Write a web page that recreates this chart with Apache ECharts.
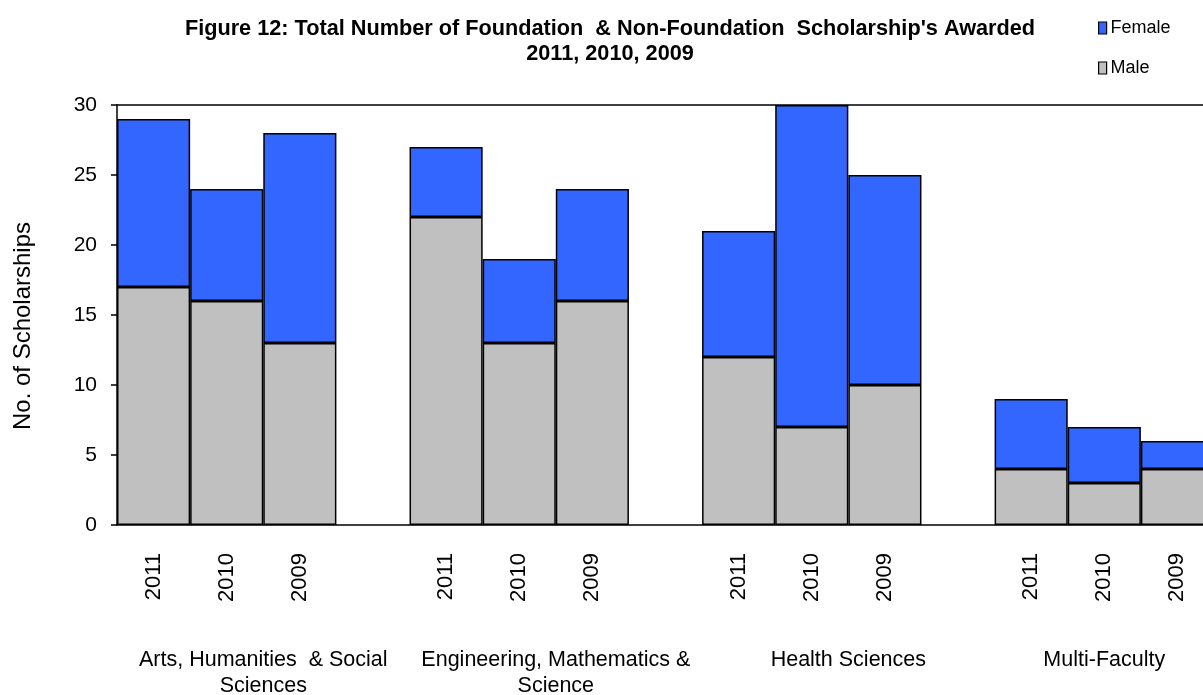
<!DOCTYPE html>
<html>
<head>
<meta charset="utf-8">
<script src="https://cdn.jsdelivr.net/npm/echarts@6/dist/echarts.min.js"></script>
<style>
html,body{margin:0;padding:0;background:#fff;}
#chart{width:1203px;height:695px;}
</style>
</head>
<body>
<div id="chart"></div>
<script>
// slots: 3 years per faculty, then a blank slot as gap
var years = ['2011','2010','2009'];
var faculties = ['Arts, Humanities  & Social\nSciences', 'Engineering, Mathematics &\nScience', 'Health Sciences', 'Multi-Faculty'];
var maleValues = [17, 16, 13, 22, 13, 16, 12, 7, 10, 4, 3, 4];
var femaleValues = [12, 8, 15, 5, 6, 8, 9, 23, 15, 5, 4, 2];
var yTicks = [0, 5, 10, 15, 20, 25, 30];

// build the category slots with gaps between groups
var slots = [], male = [], female = [];
for (var g = 0; g < faculties.length; g++) {
	for (var i = 0; i < years.length; i++) {
		slots.push(years[i]);
		male.push(maleValues[g * 3 + i]);
		female.push(femaleValues[g * 3 + i]);
	}
	if (g < faculties.length - 1) {
		slots.push('');
		male.push('-');
		female.push('-');
	}
}
// centre of each faculty's block of slots (value axis 0..slots.length)
var groupCenters = [2, 6, 10, 13.5];

var font = 'Liberation Sans, Arial, sans-serif';
var chart = echarts.init(document.getElementById('chart'));
var option = {
	animation: false,
	textStyle: {fontFamily: font, color: '#000'},
	title: {
		text: "Figure 12: Total Number of Foundation  & Non-Foundation  Scholarship's Awarded\n2011, 2010, 2009",
		left: 605,
		top: 12,
		textAlign: 'center',
		textStyle: {fontFamily: font, fontSize: 21.7, fontWeight: 'bold', color: '#000', lineHeight: 25}
	},
	legend: {
		orient: 'vertical',
		left: 1093,
		top: 14,
		icon: 'rect',
		itemWidth: 8,
		itemHeight: 12,
		itemGap: 22,
		data: ['Female', 'Male'],
		itemStyle: {borderColor: '#000', borderWidth: 1.2},
		textStyle: {fontFamily: font, fontSize: 18, color: '#000', padding: [0, 0, 0, -1]}
	},
	// the last bar runs past the right edge of the picture, as in the original
	grid: {left: 117, top: 105, height: 420, width: 1097, containLabel: false, outerBoundsMode: 'none'},
	xAxis: [
		{
			type: 'category',
			data: slots,
			position: 'bottom',
			axisLine: {lineStyle: {color: '#000', width: 1.5}},
			axisTick: {show: false},
			axisLabel: {rotate: 90, margin: 28, fontSize: 22, color: '#000', fontFamily: font, interval: 0}
		},
		{
			type: 'category',
			data: slots,
			position: 'top',
			axisLine: {lineStyle: {color: '#000', width: 1.5}},
			axisTick: {show: false},
			axisLabel: {show: false}
		},
		{
			type: 'value',
			min: 0,
			max: slots.length,
			position: 'bottom',
			axisLine: {show: false},
			axisTick: {show: false},
			splitLine: {show: false},
			axisLabel: {
				customValues: groupCenters,
				margin: 122,
				fontSize: 21.5,
				lineHeight: 26,
				color: '#000',
				fontFamily: font,
				formatter: function (v) {
					var idx = groupCenters.indexOf(v);
					return idx >= 0 ? faculties[idx] : '';
				}
			}
		}
	],
	yAxis: {
		type: 'value',
		min: 0,
		max: 30,
		interval: 5,
		name: 'No. of Scholarships',
		nameLocation: 'middle',
		nameGap: 82,
		nameTextStyle: {fontFamily: font, fontSize: 24, color: '#000', padding: [0, 22, 0, 0]},
		axisLine: {show: true, lineStyle: {color: '#000', width: 1.5}},
		axisTick: {show: true, inside: false, length: 6, lineStyle: {color: '#000', width: 1.5}},
		axisLabel: {
			margin: 20, fontSize: 21, color: '#000', fontFamily: font,
			formatter: function (v) { return yTicks.indexOf(v) >= 0 ? String(v) : ''; }
		},
		splitLine: {show: false}
	},
	series: [
		{
			name: 'Male',
			type: 'bar',
			stack: 'total',
			data: male,
			barGap: '0%',
			barCategoryGap: '0%',
			itemStyle: {color: '#C0C0C0', borderColor: '#000', borderWidth: 1.5}
		},
		{
			name: 'Female',
			type: 'bar',
			stack: 'total',
			data: female,
			barGap: '0%',
			barCategoryGap: '0%',
			itemStyle: {color: '#3366FF', borderColor: '#000', borderWidth: 1.5}
		}
	]
};
chart.setOption(option);
</script>
</body>
</html>
